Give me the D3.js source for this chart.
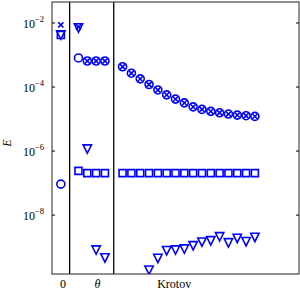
<!DOCTYPE html>
<html>
<head>
<meta charset="utf-8">
<script src="https://cdn.jsdelivr.net/npm/d3@7"></script>
<style>
body { margin: 0; background: #fff; }
svg text { font-family: "Liberation Serif", "DejaVu Serif", serif; fill: #000; }
</style>
</head>
<body>
<div id="chart"></div>
<script>
// x positions (slot index), 1 and 6 are the separators
var positions = [0, 2, 3, 4, 5, 7, 8, 9, 10, 11, 12, 13, 14, 15, 16, 17, 18, 19, 20, 21, 22];
var separators = [1, 6];

var circleE = [9.3e-8, 8.1e-4, 6.5e-4, 6.5e-4, 6.5e-4,
	4.3e-4, 2.7e-4, 1.8e-4, 1.2e-4, 8.1e-5, 5.7e-5, 4.2e-5, 3.2e-5,
	2.4e-5, 2.0e-5, 1.74e-5, 1.57e-5, 1.43e-5, 1.33e-5, 1.27e-5, 1.21e-5];
var crossE = [8.7e-3, 7.5e-3, 6.5e-4, 6.5e-4, 6.5e-4,
	4.3e-4, 2.7e-4, 1.8e-4, 1.2e-4, 8.1e-5, 5.7e-5, 4.2e-5, 3.2e-5,
	2.4e-5, 2.0e-5, 1.74e-5, 1.57e-5, 1.43e-5, 1.33e-5, 1.27e-5, 1.21e-5];
var squareE = [4.2e-3, 2.4e-7, 2.05e-7, 2.05e-7, 2.05e-7,
	2.05e-7, 2.05e-7, 2.05e-7, 2.05e-7, 2.05e-7, 2.05e-7, 2.05e-7, 2.05e-7,
	2.05e-7, 2.05e-7, 2.05e-7, 2.05e-7, 2.05e-7, 2.05e-7, 2.05e-7, 2.05e-7];
var triangleE = [4.2e-3, 7.0e-3, 1.15e-6, 8.1e-10, 4.6e-10,
	null, null, null, 1.9e-10, 4.4e-10, 7.7e-10, 8.1e-10, 8.7e-10,
	1.1e-9, 1.43e-9, 1.57e-9, 2.1e-9, 1.36e-9, 1.87e-9, 1.47e-9, 2.01e-9];

var yTicks = [1e-2, 1e-4, 1e-6, 1e-8];
var xTickPos = [0.25, 4.15, 12.85];
var xTickLabels = ['0', 'θ', 'Krotov'];

var svgWidth = 300, svgHeight = 291;
var plotLeft = 52, plotRight = 299, plotTop = 2, plotBottom = 274;
var blue = '#0000ff';

var svg = d3.select('#chart')
	.append('svg')
	.attr('width', svgWidth)
	.attr('height', svgHeight);

var x = d3.scaleLinear().domain([-1, 27]).range([plotLeft, plotRight]);
var y = d3.scaleLog().domain([Math.pow(10, -9.84), Math.pow(10, -1.344)]).range([plotBottom, plotTop]);

svg.append('clipPath').attr('id', 'clip')
	.append('rect')
	.attr('x', plotLeft).attr('y', plotTop)
	.attr('width', plotRight - plotLeft).attr('height', plotBottom - plotTop);

// marker shapes, centred on their bounding box like matplotlib
var shapes = {
	circle: {draw: function (c, s) { var r = 4; c.moveTo(r, 0); c.arc(0, 0, r, 0, 2 * Math.PI); }},
	square: {draw: function (c, s) { var h = 3.5; c.rect(-h, -h, 2 * h, 2 * h); }},
	triangle: {draw: function (c, s) { var h = 4.2; c.moveTo(0, h); c.lineTo(-h, -h); c.lineTo(h, -h); c.closePath(); }},
	cross: {draw: function (c, s) { var h = 2.6; c.moveTo(-h, -h); c.lineTo(h, h); c.moveTo(-h, h); c.lineTo(h, -h); }}
};

var plot = svg.append('g').attr('clip-path', 'url(#clip)');

// separators
plot.selectAll('line.sep')
	.data(separators)
	.enter()
	.append('line')
	.attr('class', 'sep')
	.attr('x1', function (d) { return x(d); })
	.attr('x2', function (d) { return x(d); })
	.attr('y1', plotTop)
	.attr('y2', plotBottom)
	.attr('stroke', '#000')
	.attr('stroke-width', 1.3);

function drawSeries(values, shape) {
	var pts = positions.map(function (p, i) { return {p: p, v: values[i]}; })
		.filter(function (d) { return d.v != null; });
	plot.append('g')
		.selectAll('path')
		.data(pts)
		.enter()
		.append('path')
		.attr('transform', function (d) { return 'translate(' + x(d.p) + ',' + y(d.v) + ')'; })
		.attr('d', d3.symbol().type(shape))
		.attr('fill', 'none')
		.attr('stroke', blue)
		.attr('stroke-width', 1.6);
}

drawSeries(circleE, shapes.circle);
drawSeries(squareE, shapes.square);
drawSeries(triangleE, shapes.triangle);
drawSeries(crossE, shapes.cross);

// frame
svg.append('rect')
	.attr('x', plotLeft).attr('y', plotTop)
	.attr('width', plotRight - plotLeft).attr('height', plotBottom - plotTop)
	.attr('fill', 'none')
	.attr('stroke', '#222')
	.attr('stroke-width', 1);

// y ticks on both sides
yTicks.forEach(function (t) {
	svg.append('line')
		.attr('x1', plotLeft).attr('x2', plotLeft + 3)
		.attr('y1', y(t)).attr('y2', y(t))
		.attr('stroke', '#000');
	svg.append('line')
		.attr('x1', plotRight - 3).attr('x2', plotRight)
		.attr('y1', y(t)).attr('y2', y(t))
		.attr('stroke', '#000');
	var lab = svg.append('text')
		.attr('x', 44)
		.attr('y', y(t) + 5)
		.attr('text-anchor', 'end')
		.style('font-size', '12px');
	lab.append('tspan').text('10');
	lab.append('tspan')
		.attr('dy', -6)
		.style('font-size', '8.5px')
		.text('−' + Math.round(-Math.log10(t)));
});

// x labels
svg.selectAll('text.xl')
	.data(xTickPos)
	.enter()
	.append('text')
	.attr('class', 'xl')
	.attr('x', function (d) { return x(d); })
	.attr('y', 288)
	.attr('text-anchor', 'middle')
	.style('font-size', '12px')
	.style('font-style', function (d, i) { return i == 1 ? 'italic' : 'normal'; })
	.text(function (d, i) { return xTickLabels[i]; });

svg.append('text')
	.attr('transform', 'translate(11,143) rotate(-90)')
	.attr('text-anchor', 'middle')
	.style('font-size', '12px')
	.style('font-style', 'italic')
	.text('E');
</script>
</body>
</html>
